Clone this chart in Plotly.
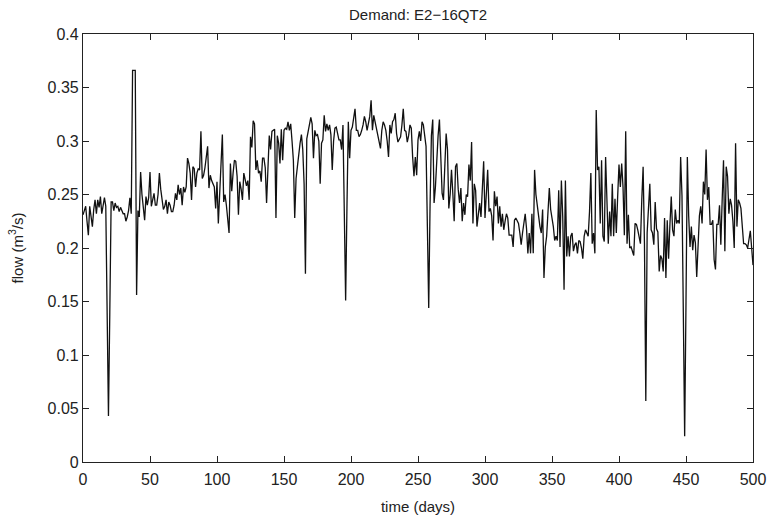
import plotly.graph_objects as go

days = list(range(0, 501))

flow = [
    0.231, 0.235, 0.239, 0.225, 0.212, 0.239, 0.228, 0.220, 0.236, 0.245,
    0.232, 0.245, 0.238, 0.248, 0.232, 0.240, 0.247, 0.239, 0.150, 0.043,
    0.140, 0.243, 0.243, 0.235, 0.242, 0.238, 0.239, 0.234, 0.238, 0.235,
    0.232, 0.232, 0.225, 0.229, 0.235, 0.247, 0.232, 0.366, 0.366, 0.366,
    0.156, 0.235, 0.229, 0.271, 0.250, 0.234, 0.226, 0.248, 0.240, 0.247,
    0.271, 0.239, 0.245, 0.251, 0.240, 0.240, 0.250, 0.270, 0.255, 0.245,
    0.236, 0.239, 0.245, 0.232, 0.243, 0.240, 0.234, 0.234, 0.240, 0.251,
    0.245, 0.259, 0.250, 0.256, 0.240, 0.257, 0.252, 0.257, 0.284, 0.279,
    0.270, 0.245, 0.276, 0.274, 0.257, 0.270, 0.274, 0.273, 0.309, 0.265,
    0.268, 0.275, 0.285, 0.295, 0.256, 0.268, 0.263, 0.260, 0.257, 0.237,
    0.262, 0.223, 0.251, 0.270, 0.306, 0.243, 0.250, 0.240, 0.229, 0.214,
    0.279, 0.253, 0.270, 0.282, 0.281, 0.267, 0.231, 0.262, 0.255, 0.245,
    0.270, 0.263, 0.258, 0.263, 0.245, 0.304, 0.294, 0.319, 0.316, 0.273,
    0.282, 0.270, 0.272, 0.262, 0.284, 0.284, 0.275, 0.242, 0.282, 0.305,
    0.292, 0.309, 0.310, 0.311, 0.228, 0.305, 0.298, 0.279, 0.311, 0.282,
    0.310, 0.312, 0.311, 0.318, 0.310, 0.316, 0.300, 0.282, 0.228, 0.265,
    0.276, 0.290, 0.298, 0.306, 0.292, 0.260, 0.176, 0.302, 0.308, 0.315,
    0.322, 0.316, 0.284, 0.310, 0.305, 0.306, 0.300, 0.260, 0.298, 0.301,
    0.324, 0.309, 0.316, 0.310, 0.315, 0.306, 0.273, 0.300, 0.312, 0.313,
    0.305, 0.301, 0.301, 0.292, 0.315, 0.235, 0.151, 0.240, 0.318, 0.284,
    0.310, 0.313, 0.320, 0.330, 0.310, 0.310, 0.304, 0.306, 0.310, 0.315,
    0.323, 0.318, 0.310, 0.318, 0.323, 0.338, 0.310, 0.324, 0.318, 0.310,
    0.304, 0.298, 0.293, 0.310, 0.318, 0.315, 0.310, 0.300, 0.285, 0.315,
    0.307, 0.318, 0.320, 0.326, 0.307, 0.299, 0.302, 0.304, 0.315, 0.330,
    0.310, 0.309, 0.299, 0.305, 0.315, 0.312, 0.285, 0.267, 0.285, 0.268,
    0.301, 0.309, 0.300, 0.318, 0.315, 0.305, 0.295, 0.220, 0.144, 0.240,
    0.305, 0.320, 0.242, 0.257, 0.290, 0.305, 0.320, 0.279, 0.251, 0.245,
    0.285, 0.307, 0.292, 0.237, 0.250, 0.273, 0.251, 0.225, 0.276, 0.279,
    0.255, 0.242, 0.256, 0.225, 0.242, 0.231, 0.250, 0.248, 0.278, 0.263,
    0.299, 0.223, 0.260, 0.254, 0.220, 0.235, 0.242, 0.229, 0.251, 0.281,
    0.228, 0.250, 0.273, 0.234, 0.237, 0.230, 0.207, 0.253, 0.239, 0.248,
    0.223, 0.239, 0.220, 0.232, 0.217, 0.225, 0.232, 0.228, 0.212, 0.212,
    0.212, 0.201, 0.226, 0.228, 0.226, 0.223, 0.214, 0.203, 0.214, 0.225,
    0.232, 0.218, 0.195, 0.214, 0.195, 0.232, 0.195, 0.273, 0.250, 0.240,
    0.229, 0.220, 0.214, 0.236, 0.172, 0.201, 0.211, 0.235, 0.256, 0.236,
    0.228, 0.220, 0.207, 0.211, 0.207, 0.254, 0.201, 0.263, 0.230, 0.161,
    0.263, 0.192, 0.211, 0.192, 0.211, 0.214, 0.197, 0.203, 0.205, 0.195,
    0.207, 0.206, 0.200, 0.190, 0.211, 0.217, 0.214, 0.211, 0.234, 0.270,
    0.204, 0.214, 0.195, 0.329, 0.273, 0.276, 0.223, 0.282, 0.211, 0.206,
    0.285, 0.229, 0.204, 0.234, 0.211, 0.260, 0.211, 0.246, 0.214, 0.248,
    0.278, 0.257, 0.279, 0.257, 0.212, 0.309, 0.204, 0.231, 0.200, 0.201,
    0.197, 0.193, 0.223, 0.222, 0.217, 0.210, 0.204, 0.245, 0.276, 0.204,
    0.057, 0.214, 0.242, 0.260, 0.217, 0.214, 0.203, 0.243, 0.218, 0.215,
    0.178, 0.193, 0.190, 0.178, 0.228, 0.172, 0.226, 0.190, 0.222, 0.248,
    0.217, 0.211, 0.236, 0.223, 0.226, 0.223, 0.285, 0.249, 0.140, 0.024,
    0.150, 0.285, 0.230, 0.201, 0.220, 0.198, 0.212, 0.205, 0.173, 0.201,
    0.230, 0.239, 0.223, 0.262, 0.250, 0.292, 0.245, 0.257, 0.222, 0.222,
    0.226, 0.189, 0.180, 0.222, 0.222, 0.240, 0.203, 0.245, 0.282, 0.197,
    0.276, 0.267, 0.232, 0.246, 0.240, 0.225, 0.200, 0.298, 0.220, 0.245,
    0.242, 0.237, 0.215, 0.204, 0.204, 0.203, 0.200, 0.210, 0.216, 0.200,
    0.184,
]

x_ticks = [0, 50, 100, 150, 200, 250, 300, 350, 400, 450, 500]
y_ticks = [0, 0.05, 0.1, 0.15, 0.2, 0.25, 0.3, 0.35, 0.4]
y_tick_labels = ["0", "0.05", "0.1", "0.15", "0.2", "0.25", "0.3", "0.35", "0.4"]

FONT = "Liberation Sans, Arial, Helvetica, sans-serif"

fig = go.Figure()
fig.add_trace(go.Scatter(
    x=days, y=flow, mode="lines",
    line=dict(color="#111111", width=1.3),
    showlegend=False, hoverinfo="skip",
))

axis_common = dict(
    showgrid=False, zeroline=False, showline=True, linecolor="#222222",
    linewidth=1.2, mirror="ticks", ticks="inside", ticklen=6,
    tickcolor="#222222", tickwidth=1, automargin=False,
    tickfont=dict(family=FONT, size=16, color="#222222"),
)

fig.update_layout(
    width=770, height=519,
    margin=dict(l=83, r=17, t=34, b=57),
    paper_bgcolor="white", plot_bgcolor="white",
    font=dict(family=FONT, size=15, color="#222222"),
    title=dict(text="Demand: E2\u221216QT2", x=(83 + 753) / 2 / 770, xanchor="center",
               y=1 - 15 / 519, yanchor="middle",
               font=dict(family=FONT, size=15, color="#222222")),
    xaxis=dict(range=[0, 500], tickvals=x_ticks, ticklabelstandoff=3,
               title=dict(text="time (days)", font=dict(family=FONT, size=15), standoff=14),
               **axis_common),
    yaxis=dict(range=[0, 0.4], tickvals=y_ticks, ticktext=y_tick_labels,
               title=dict(text="flow (m<sup>3</sup>/s)", font=dict(family=FONT, size=15), standoff=20),
               **axis_common),
)

fig.write_html("out.html", config={"displayModeBar": False},
               post_script="document.body.style.margin='0px';")
